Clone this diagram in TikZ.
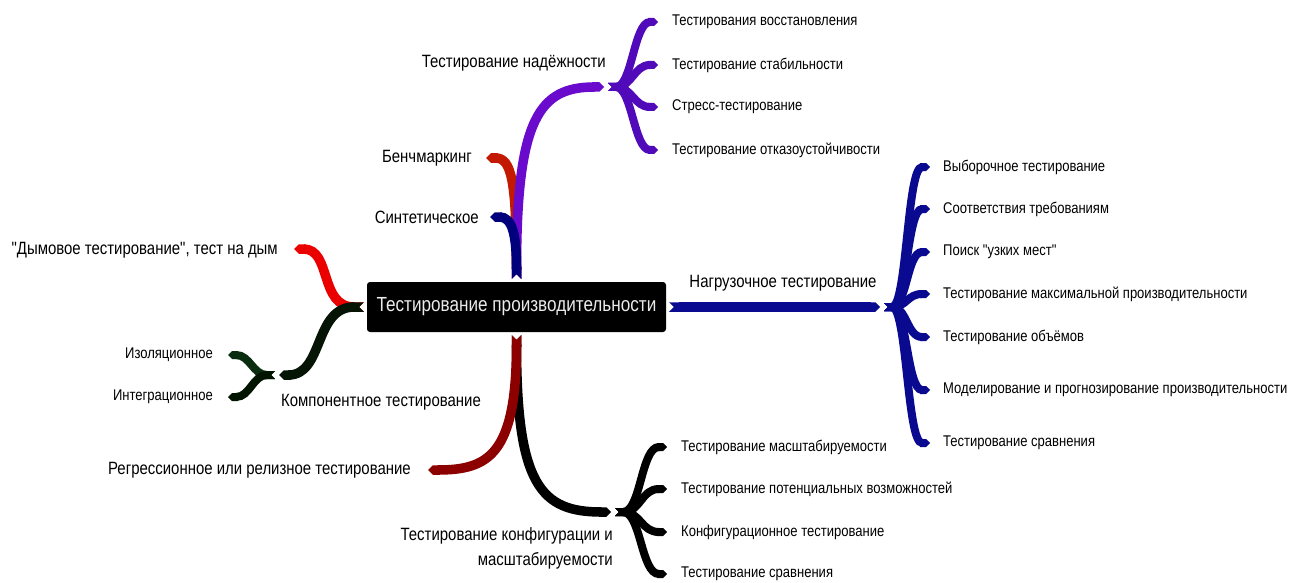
\documentclass[tikz,border=0pt]{standalone}
\usepackage{fontspec}
\setmainfont{Liberation Sans}[FakeStretch=0.84, Ligatures=TeXOff]
\usetikzlibrary{arrows.meta, positioning, backgrounds, calc}
\definecolor{reliabcolor}{RGB}{105,10,205}
\definecolor{reliabsubcolor}{RGB}{80,10,185}
\definecolor{benchcolor}{RGB}{195,25,0}
\definecolor{synthcolor}{RGB}{0,0,125}
\definecolor{smokecolor}{RGB}{235,0,0}
\definecolor{compcolor}{RGB}{5,20,5}
\definecolor{isolcolor}{RGB}{10,45,15}
\definecolor{integcolor}{RGB}{0,20,0}
\definecolor{regrcolor}{RGB}{140,0,0}
\definecolor{configcolor}{RGB}{0,0,0}
\definecolor{loadcolor}{RGB}{10,10,145}
\tikzset{
  rootnode/.style={fill=black, text=white!92!black, rounded corners=3pt,
                   minimum width=299pt, minimum height=50pt, inner sep=0pt,
                   font=\fontsize{20.4}{24}\selectfont},
  topic/.style={font=\fontsize{17.8}{25}\selectfont, inner sep=0pt, text=black},
  leaf/.style={font=\fontsize{15.5}{18}\selectfont, inner sep=0pt, text=black},
  branch/.style={line width=9.5pt, draw=#1,
                 {Triangle Cap[reversed]}-{Triangle Cap}},
  twig/.style={line width=8pt, draw=#1,
               {Triangle Cap[reversed]}-{Triangle Cap}},
}
\begin{document}
\begin{tikzpicture}[x=1pt, y=-1pt]
  \useasboundingbox (0,0) rectangle (1301,583);

  \node[rootnode] (root) at (516.5,307) {Тестирование производительности};

  \coordinate (rootN) at ($(root.north)+(0,-3)$);
  \coordinate (rootS) at ($(root.south)+(0,3)$);
  \coordinate (rootW) at ($(root.west)+(-3,0)$);
  \coordinate (rootE) at ($(root.east)+(3,0)$);

  % Branch ends and forks
  \coordinate (relend) at (604,87);
  \coordinate (relfork) at (608,87);
  \coordinate (benchend) at (486,158);
  \coordinate (synend) at (490,217);
  \coordinate (smokeend) at (294,249);
  \coordinate (compend) at (279,375);
  \coordinate (compfork) at (275,375);
  \coordinate (regrend) at (428,470);
  \coordinate (cfgend) at (611,512);
  \coordinate (cfgfork) at (615,512);
  \coordinate (loadend) at (880,307);
  \coordinate (loadfork) at (884,307);

  % Leaf tips
  \coordinate (rel1) at (658,22);
  \coordinate (rel2) at (658,65);
  \coordinate (rel3) at (658,107);
  \coordinate (rel4) at (658,150);
  \coordinate (comp1) at (228,355);
  \coordinate (comp2) at (228,397);
  \coordinate (cfg1) at (667,447);
  \coordinate (cfg2) at (667,489);
  \coordinate (cfg3) at (667,532);
  \coordinate (cfg4) at (667,574);
  \coordinate (load1) at (930,167);
  \coordinate (load2) at (930,209);
  \coordinate (load3) at (930,252);
  \coordinate (load4) at (930,294);
  \coordinate (load5) at (930,337);
  \coordinate (load6) at (930,390);
  \coordinate (load7) at (930,443);

  % Labels
  \node[topic, anchor=east] (rel) at (606,63) {Тестирование надёжности};
  \node[topic, anchor=east] (bench) at (472,158) {Бенчмаркинг};
  \node[topic, anchor=east] (synth) at (479,217) {Синтетическое};
  \node[topic, anchor=east] (smoke) at (278,250)
    {"Дымовое тестирование", тест на дым};
  \node[topic] (comp) at (381,402) {Компонентное тестирование};
  \node[topic, anchor=east] (regr) at (411,470)
    {Регрессионное или релизное тестирование};
  \node[topic, anchor=east, align=right] (cfg) at (613,548)
    {Тестирование конфигурации и\\масштабируемости};
  \node[topic] (load) at (783,283) {Нагрузочное тестирование};

  \node[leaf, right=14pt of rel1] (relA) {Тестирования восстановления};
  \node[leaf, right=14pt of rel2] (relB) {Тестирование стабильности};
  \node[leaf, right=14pt of rel3] (relC) {Стресс-тестирование};
  \node[leaf, right=14pt of rel4] (relD) {Тестирование отказоустойчивости};

  \node[leaf, left=15pt of comp1] (compA) {Изоляционное};
  \node[leaf, left=15pt of comp2] (compB) {Интеграционное};

  \node[leaf, right=14pt of cfg1] (cfgA) {Тестирование масштабируемости};
  \node[leaf, right=14pt of cfg2] (cfgB) {Тестирование потенциальных возможностей};
  \node[leaf, right=14pt of cfg3] (cfgC) {Конфигурационное тестирование};
  \node[leaf, right=14pt of cfg4] (cfgD) {Тестирование сравнения};

  \node[leaf, right=13pt of load1] (loadA) {Выборочное тестирование};
  \node[leaf, right=13pt of load2] (loadB) {Соответствия требованиям};
  \node[leaf, right=13pt of load3] (loadC) {Поиск "узких мест"};
  \node[leaf, right=13pt of load4] (loadD) {Тестирование максимальной производительности};
  \node[leaf, right=13pt of load5] (loadE) {Тестирование объёмов};
  \node[leaf, right=13pt of load6] (loadF) {Моделирование и прогнозирование производительности};
  \node[leaf, right=13pt of load7] (loadG) {Тестирование сравнения};

  \begin{scope}[on background layer]
    % Upper branches
    \draw[branch=benchcolor] (rootN) .. controls +(0,-100) and +(25,0) .. (benchend);
    \draw[branch=reliabcolor] (rootN) .. controls +(0,-160) and +(-65,0) .. (relend);
    \draw[branch=synthcolor] (rootN) .. controls +(0,-45) and +(22,0) .. (synend);
    \foreach \t in {rel1,rel2,rel3,rel4}
      \draw[twig=reliabsubcolor] (relfork) .. controls +(24,0) and +(-24,0) .. (\t);

    % Left branches
    \draw[branch=smokecolor] (rootW) .. controls +(-45,0) and +(38,0) .. (smokeend);
    \draw[branch=compcolor] (rootW) .. controls +(-50,0) and +(45,0) .. (compend);
    \draw[twig=isolcolor] (compfork) .. controls +(-22,0) and +(22,0) .. (comp1);
    \draw[twig=integcolor] (compfork) .. controls +(-22,0) and +(22,0) .. (comp2);

    % Lower branches
    \draw[branch=configcolor] (rootS) .. controls +(0,150) and +(-70,0) .. (cfgend);
    \draw[branch=regrcolor] (rootS) .. controls +(0,120) and +(60,0) .. (regrend);
    \foreach \t in {cfg1,cfg2,cfg3,cfg4}
      \draw[twig=configcolor] (cfgfork) .. controls +(26,0) and +(-26,0) .. (\t);

    % Right branch
    \draw[branch=loadcolor] (rootE) -- (loadend);
    \foreach \t in {load1,load2,load3,load4,load5,load6,load7}
      \draw[twig=loadcolor] (loadfork) .. controls +(23,0) and +(-23,0) .. (\t);
  \end{scope}
\end{tikzpicture}
\end{document}
